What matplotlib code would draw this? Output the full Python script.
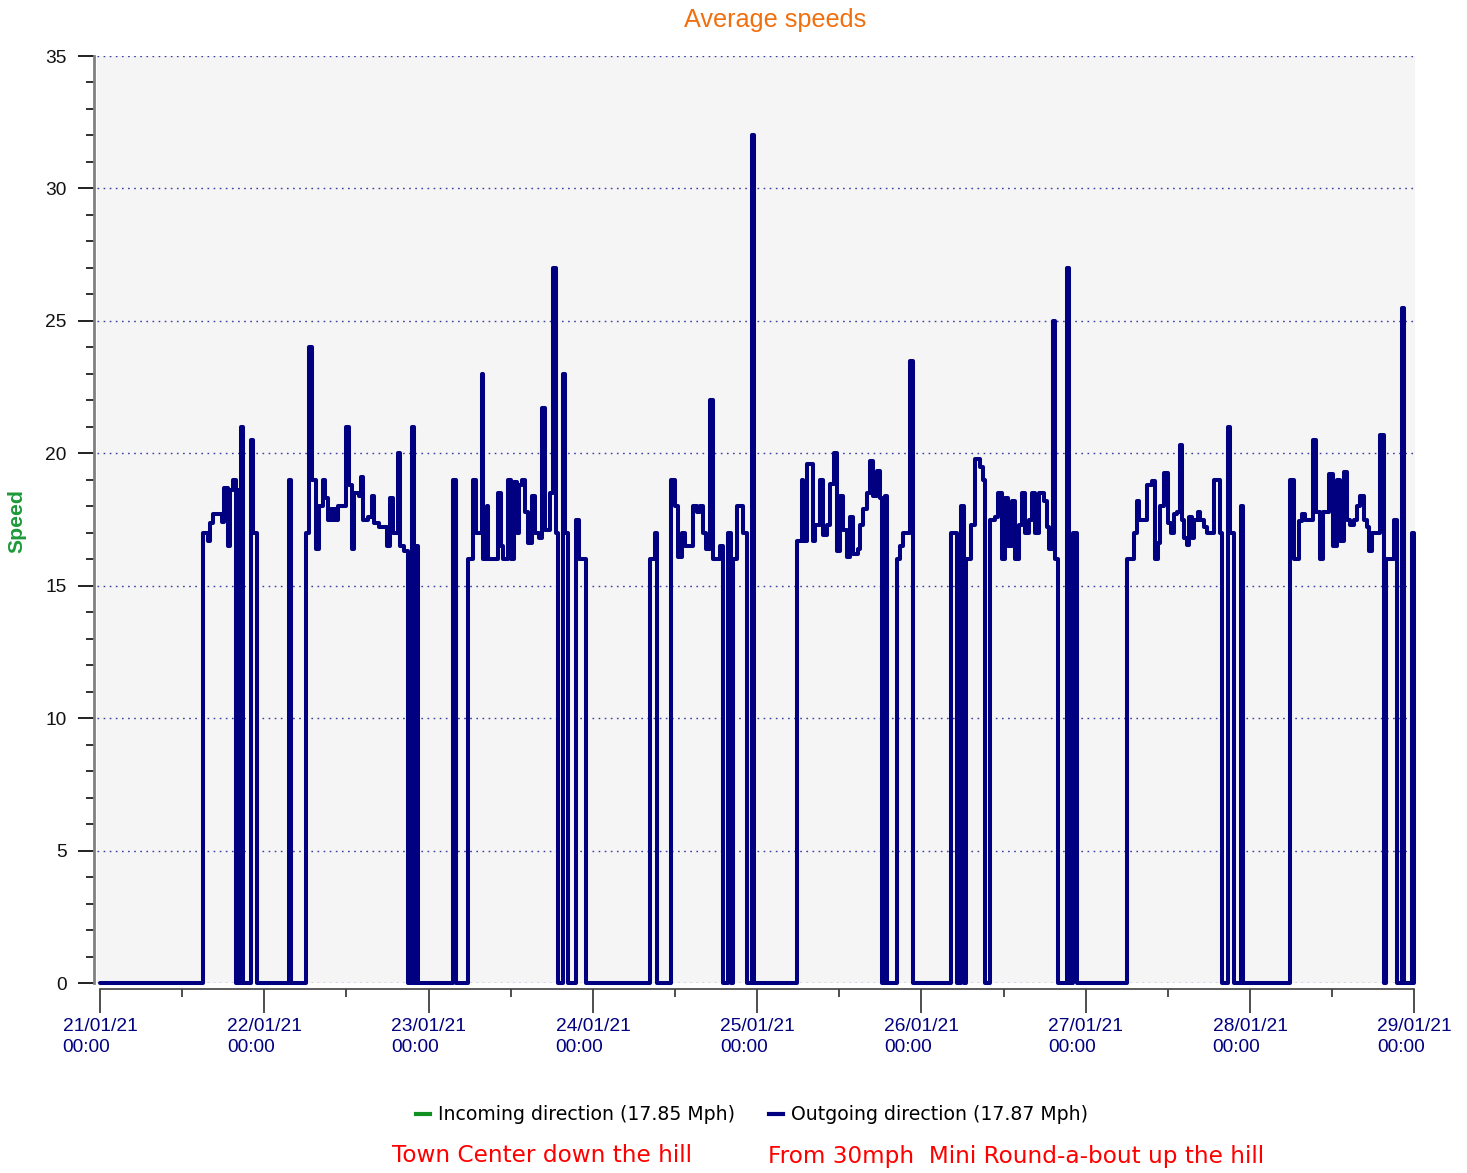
import matplotlib
matplotlib.use("Agg")
import matplotlib.pyplot as plt
import matplotlib.dates as mdates
from matplotlib.lines import Line2D
from matplotlib.ticker import MultipleLocator
import pandas as pd

# ---- data: step series (hours since 21/01/21 00:00, speed in Mph) ----
start = "2021-01-21 00:00"
hours = [
    0.0, 15.0, 15.78, 16.07, 16.55, 17.78, 18.16, 18.75, 18.99, 19.48, 19.87, 20.16, 20.45, 20.65, 20.9,
    22.0, 22.3, 22.9, 27.54, 27.9, 30.06, 30.54, 30.9, 31.6, 31.95, 32.54, 32.92, 33.31, 33.71, 33.9,
    34.19, 34.48, 34.77, 35.94, 36.34, 36.82, 37.11, 37.8, 38.14, 38.47, 39.16, 39.7, 40.03, 40.72,
    41.93, 42.37, 42.86, 43.5, 43.88, 44.42, 45.05, 45.54, 45.92, 46.17, 46.46,
    51.5, 51.95, 53.81, 54.54, 54.9, 55.77, 56.0, 56.5, 56.74, 58.2, 58.59, 58.93, 59.66, 60.05, 60.49,
    60.93, 61.27, 61.66, 62.1, 62.58, 63.12, 63.56, 64.14, 64.58, 65.02, 65.75, 66.23, 66.58, 66.96,
    67.58, 67.94, 68.43, 69.55, 69.99, 71.01,
    80.36, 81.09, 81.43, 83.43, 84.02, 84.5, 85.0, 85.48, 86.6, 87.18, 87.67, 88.06, 88.54, 89.13,
    89.52, 90.59, 90.98, 91.8, 92.2, 92.45, 93.03, 94.0, 94.49, 95.22, 95.56,
    101.8, 102.53, 102.76, 103.26, 104.13, 104.47, 105.2, 105.68, 106.18, 106.66, 107.25, 107.64,
    108.12, 108.61, 109.1, 109.59, 110.07, 110.8, 111.04, 111.53, 112.03, 112.51, 112.99, 113.49,
    113.97, 114.22, 114.7, 114.99, 116.41, 116.89, 117.37, 118.35, 118.79,
    124.3, 125.18, 125.76, 126.24, 126.54, 127.26, 127.75, 128.48, 129.06, 129.31, 130.04, 130.77,
    131.25, 131.75, 132.23, 132.71, 133.21, 133.69, 134.18, 134.67, 135.15, 135.64, 136.13, 136.62,
    137.1, 137.83, 138.33, 138.66, 139.2, 139.54, 140.02, 141.25, 141.58, 142.21, 142.71,
    149.96, 150.98, 151.47, 151.85, 152.94, 153.67, 154.05, 154.55, 154.88, 155.36, 155.95, 156.44,
    156.83, 157.32, 157.8, 158.05, 158.39, 158.78, 159.12, 159.51, 159.85, 160.33, 160.72, 161.21,
    161.7, 162.67, 163.65, 163.94, 164.72, 165.1, 165.59, 166.71, 167.0,
    173.87, 174.36, 175.09, 175.58, 176.07, 177.2, 177.67, 178.16, 178.7, 179.47, 180.11, 180.7,
    181.19, 181.67, 182.16, 182.65, 183.13, 183.62, 184.1, 184.59, 185.08, 185.32, 185.81, 187.02,
    187.51, 187.9, 188.98, 189.5, 190.2, 190.53, 191.66, 192.0,
]
speeds = [
    0, 17.0, 16.7, 17.35, 17.7, 17.4, 18.7, 16.5, 18.6, 19.0, 0, 18.6, 0, 21.0, 0,
    20.5, 17.0, 0, 19.0, 0, 17.0, 24.0, 19.0, 16.4, 18.0, 19.0, 18.3, 17.5, 17.9, 17.5,
    17.9, 17.5, 18.0, 21.0, 18.8, 16.4, 18.5, 18.4, 19.1, 17.5, 17.6, 18.4, 17.35, 17.2,
    16.5, 18.3, 17.0, 20.0, 16.5, 16.3, 0, 21.0, 0, 16.5, 0,
    19.0, 0, 16.0, 19.0, 17.0, 23.0, 16.0, 18.0, 16.0, 18.5, 16.5, 16.0, 19.0, 16.0, 18.9,
    17.0, 18.8, 19.0, 17.8, 16.6, 18.4, 17.0, 16.8, 21.7, 17.1, 18.5, 27.0, 17.0, 0,
    23.0, 17.0, 0, 17.5, 16.0, 0,
    16.0, 17.0, 0, 19.0, 18.0, 16.1, 17.0, 16.5, 18.0, 17.8, 18.0, 17.0, 16.4, 22.0,
    16.0, 16.5, 0, 17.0, 0, 16.0, 18.0, 17.0, 0, 32.0, 0,
    16.7, 19.0, 16.7, 19.6, 16.7, 17.3, 19.0, 16.9, 17.3, 18.85, 20.0, 16.3,
    18.4, 17.1, 16.1, 17.6, 16.2, 16.4, 17.3, 17.9, 18.5, 19.7, 18.4, 19.35,
    18.3, 0, 18.4, 0, 16.0, 16.5, 17.0, 23.5, 0,
    17.0, 0, 18.0, 0, 16.0, 17.3, 19.8, 19.5, 19.0, 0, 17.5, 17.6,
    18.5, 16.0, 18.3, 16.5, 18.2, 16.0, 17.3, 18.5, 17.0, 17.5, 18.5, 17.0,
    18.5, 18.2, 17.2, 16.4, 25.0, 16.0, 0, 27.0, 0, 17.0, 0,
    16.0, 17.0, 18.2, 17.5, 18.8, 18.97, 16.0, 16.6, 18.0, 19.25, 17.35, 17.0,
    17.7, 17.8, 20.3, 17.5, 16.8, 16.55, 17.6, 16.8, 17.5, 17.8, 17.5, 17.2,
    17.0, 19.0, 17.0, 0, 21.0, 17.0, 0, 18.0, 0,
    19.0, 16.0, 17.46, 17.7, 17.5, 20.5, 17.8, 16.0, 17.8, 19.2, 16.5, 19.0,
    16.7, 19.3, 17.5, 17.3, 17.5, 18.0, 18.4, 17.5, 17.2, 16.3, 17.0, 20.7,
    0, 16.0, 17.5, 0, 25.5, 0, 17.0, 0,
]

title = "Average speeds"
y_label = "Speed"
legend_labels = ["Incoming direction (17.85 Mph)", "Outgoing direction (17.87 Mph)"]
note_left = "Town Center down the hill"
note_right = "From 30mph  Mini Round-a-bout up the hill"
y_ticks = [0, 5, 10, 15, 20, 25, 30, 35]
n_days = 8

# ---- build ----
t0 = pd.Timestamp(start)
times = [t0 + pd.Timedelta(hours=h) for h in hours]
x = mdates.date2num(times)
x0 = mdates.date2num(t0)
x_end = mdates.date2num(t0 + pd.Timedelta(days=n_days))

navy = "#000080"
fig = plt.figure(figsize=(14.67, 11.73), dpi=100)
ax = fig.add_axes([97 / 1467, 1 - 983 / 1173, (1415 - 97) / 1467, (983 - 56) / 1173])
ax.set_facecolor("#f5f5f5")

ax.plot(x, speeds, drawstyle="steps-post", color=navy, lw=2.9,
        solid_joinstyle="round", solid_capstyle="round", clip_on=False, zorder=3)

ax.set_xlim(x0 - 0.44 / 24, x_end + 0.1 / 24)
ax.set_ylim(0, 35)

for v in y_ticks:
    ax.axhline(v, color="#3c3ca0", lw=1.0, ls=(0, (1.2, 3.2)), zorder=1)

ax.set_yticks(y_ticks)
ax.yaxis.set_minor_locator(MultipleLocator(1))
ax.xaxis.set_major_locator(mdates.DayLocator())
ax.xaxis.set_minor_locator(mdates.HourLocator(byhour=[12]))
ax.xaxis.set_major_formatter(mdates.DateFormatter("%d/%m/%y\n%H:%M"))

for s in ["top", "right"]:
    ax.spines[s].set_visible(False)
ax.spines["left"].set_position(("outward", 2.5))
ax.spines["left"].set_color("#808080")
ax.spines["left"].set_linewidth(2.0)
ax.spines["bottom"].set_position(("outward", 4.5))
ax.spines["bottom"].set_bounds(x0, x_end)
ax.spines["bottom"].set_color("#404040")
ax.spines["bottom"].set_linewidth(1.2)

ax.tick_params(axis="y", which="major", length=11.5, width=1.4, color="#202020",
               pad=8, labelsize=13.8, labelcolor="#111111")
ax.tick_params(axis="y", which="minor", length=5.8, width=1.4, color="#303030")
ax.tick_params(axis="x", which="major", length=17, width=1.2, color="#303030",
               pad=4, labelsize=13.8, labelcolor=navy)
ax.tick_params(axis="x", which="minor", length=6, width=1.2, color="#303030")
for lab in ax.get_yticklabels() + ax.get_xticklabels():
    lab.set_fontfamily("Liberation Sans")
for lab in ax.get_xticklabels():
    lab.set_multialignment("left")
    lab.set_linespacing(1.3)

fig.text(775 / 1467, 1 - 20 / 1173, title, ha="center", va="center",
         fontsize=18.2, color="#f07010", family="Liberation Sans")
fig.text(17 / 1467, 1 - 521 / 1173, y_label, ha="center", va="center", rotation=90,
         fontsize=15.3, fontweight="bold", color="#1e9a3a", family="Liberation Sans")

handles = [Line2D([], [], color="#109020", lw=3),
           Line2D([], [], color=navy, lw=3)]
fig.legend(handles, legend_labels, loc="center", bbox_to_anchor=(752 / 1467, 1 - 1115 / 1173),
           ncol=2, frameon=False, handlelength=0.75, handletextpad=0.4, columnspacing=1.8,
           prop={"family": "DejaVu Sans", "size": 13.6})

fig.text(392 / 1467, 1 - 1156 / 1173, note_left, ha="left", va="center",
         fontsize=16.7, color="#ff0000", family="DejaVu Sans")
fig.text(768 / 1467, 1 - 1156 / 1173, note_right, ha="left", va="center",
         fontsize=16.7, color="#ff0000", family="DejaVu Sans")

fig.savefig("out.png", dpi=100, facecolor="white")
